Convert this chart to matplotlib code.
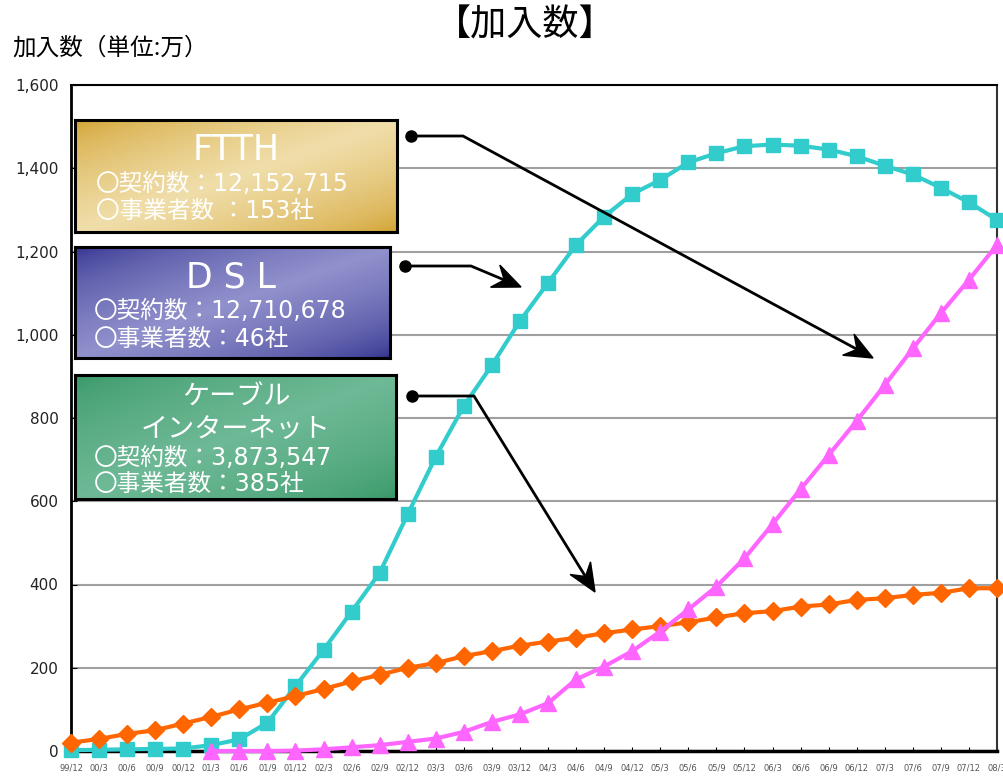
import matplotlib.pyplot as plt
import numpy as np
from matplotlib.patches import Polygon

plt.rcParams['font.family'] = ['Noto Sans CJK JP', 'DejaVu Sans']

# quarters from 99/12 to 08/3
quarters = ["99/12", "00/3", "00/6", "00/9", "00/12", "01/3", "01/6", "01/9", "01/12",
            "02/3", "02/6", "02/9", "02/12", "03/3", "03/6", "03/9", "03/12",
            "04/3", "04/6", "04/9", "04/12", "05/3", "05/6", "05/9", "05/12",
            "06/3", "06/6", "06/9", "06/12", "07/3", "07/6", "07/9", "07/12", "08/3"]

# subscribers (unit: 10,000)
dsl = [2, 3, 4, 5, 6, 14, 28, 68, 156, 243, 335, 428, 569, 707, 829, 927, 1033,
       1125, 1216, 1284, 1338, 1372, 1414, 1436, 1453, 1457, 1454, 1445, 1429,
       1406, 1385, 1353, 1318, 1276]
cable = [20, 29, 41, 50, 66, 82, 100, 116, 132, 149, 167, 183, 200, 211, 228, 240,
         253, 263, 272, 283, 292, 300, 309, 321, 331, 336, 347, 352, 363, 367, 375,
         380, 391, 391]
ftth = [np.nan, np.nan, np.nan, np.nan, np.nan, 0, 0, 0, 1, 4, 9, 14, 22, 30, 46, 70,
        88, 115, 172, 203, 240, 287, 340, 395, 463, 545, 629, 711, 793, 879, 967,
        1052, 1132, 1216]

W, H = 1004, 782
fig = plt.figure(figsize=(W / 100, H / 100), dpi=100)

ax = fig.add_axes([71 / W, 1 - 751 / H, 926 / W, 666 / H])
x = np.arange(len(quarters))

ax.plot(x, dsl, color='#33CCCC', lw=3, marker='s', ms=10, clip_on=False, zorder=3)
ax.plot(x, cable, color='#FF6600', lw=3, marker='D', ms=9, clip_on=False, zorder=4)
ax.plot(x, ftth, color='#FF66FF', lw=3, marker='^', ms=12, clip_on=False, zorder=5)

ax.set_xlim(0, len(quarters) - 1)
ax.set_ylim(0, 1600)
ax.set_yticks(range(0, 1601, 200))
ax.set_yticklabels([f"{v:,}" for v in range(0, 1601, 200)], fontsize=11,
                   color='#222222', family='DejaVu Sans')
ax.set_xticks(x)
ax.set_xticklabels(quarters, fontsize=6, color='#555555', family='DejaVu Sans')
ax.tick_params(axis='x', direction='in', length=3, pad=9)
ax.tick_params(axis='y', direction='in', length=4, pad=9)
ax.grid(axis='y', color='#a0a0a0', lw=1.5)
ax.set_axisbelow(True)
ax.spines['left'].set_linewidth(2)
ax.spines['bottom'].set_linewidth(2.5)
ax.spines['top'].set_linewidth(1.5)
ax.spines['right'].set_linewidth(1.5)
ax.spines['right'].set_color('#333333')

fig.text(525 / W, 1 - 25 / H, "【加入数】", fontsize=26, ha='center', va='center')
fig.text(12 / W, 1 - 48 / H, "加入数（単位:万）", fontsize=17, ha='left', va='center')


def gradient_box(x0, y0, x1, y1, dark, light):
    bx = fig.add_axes([x0 / W, 1 - y1 / H, (x1 - x0) / W, (y1 - y0) / H], zorder=10)
    u, v = np.meshgrid(np.linspace(0, 1, 300), np.linspace(0, 1, 120))
    t = (u + v) / 2
    w = (1 - np.abs(2 * t - 1)) ** 0.6
    dark = np.array(dark) / 255
    light = np.array(light) / 255
    img = dark * (1 - w)[..., None] + light * w[..., None]
    bx.imshow(img, aspect='auto', extent=[0, 1, 0, 1], origin='upper')
    bx.set_xticks([])
    bx.set_yticks([])
    for s in bx.spines.values():
        s.set_linewidth(2.2)
        s.set_color('black')


gradient_box(75, 120, 397, 232, (208, 158, 40), (240, 222, 170))
gradient_box(75, 247, 390, 358, (45, 45, 140), (145, 145, 205))
gradient_box(75, 375, 396, 499, (52, 150, 100), (110, 185, 150))

# overlay in pixel coordinates for texts and arrows
ov = fig.add_axes([0, 0, 1, 1], zorder=20)
ov.set_xlim(0, W)
ov.set_ylim(H, 0)
ov.axis('off')
ov.patch.set_alpha(0)

box_font = ['DejaVu Sans', 'Noto Sans CJK JP']
txt = dict(color='white', va='center', family=box_font)
ov.text(236, 150, "FTTH", fontsize=25, ha='center', **txt)
ov.text(96, 184, "〇契約数：12,152,715", fontsize=17, ha='left', **txt)
ov.text(96, 211, "〇事業者数 ：153社", fontsize=17, ha='left', **txt)
ov.text(231, 277, "D S L", fontsize=25, ha='center', **txt)
ov.text(94, 311, "〇契約数：12,710,678", fontsize=17, ha='left', **txt)
ov.text(94, 339, "〇事業者数：46社", fontsize=17, ha='left', **txt)
ov.text(236, 398, "ケーブル", fontsize=19.5, ha='center', **txt)
ov.text(236, 430, "インターネット", fontsize=19.5, ha='center', **txt)
ov.text(94, 458, "〇契約数：3,873,547", fontsize=17, ha='left', **txt)
ov.text(94, 484, "〇事業者数：385社", fontsize=17, ha='left', **txt)


def callout(start, bend, tip, L=28, Wd=24):
    start, bend, tip = map(np.array, (start, bend, tip))
    d = (tip - bend) / np.linalg.norm(tip - bend)
    n = np.array([-d[1], d[0]])
    notch = tip - 0.65 * L * d
    ov.plot([start[0], bend[0], notch[0]], [start[1], bend[1], notch[1]],
            color='black', lw=2)
    ov.plot(*start, marker='o', ms=8, color='black')
    head = [tip, tip - L * d + Wd / 2 * n, notch, tip - L * d - Wd / 2 * n]
    ov.add_patch(Polygon(head, closed=True, color='black'))


callout((411, 136), (463, 136), (873, 358))
callout((405, 266), (471, 266), (521, 287))
callout((412, 396), (474, 396), (595, 592))

fig.savefig("out.png", dpi=100)
